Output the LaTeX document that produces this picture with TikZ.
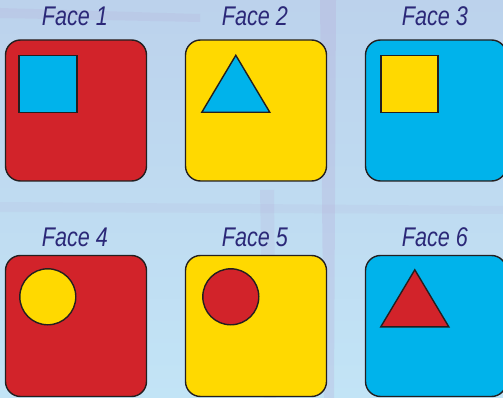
\documentclass[tikz,border=0pt]{standalone}
\usepackage{fontspec}
\setmainfont{Liberation Sans}
\definecolor{bgtop}{HTML}{BCD2EC}
\definecolor{bgbot}{HTML}{C2E4F6}
\definecolor{streak}{HTML}{B39CCF}
\definecolor{fred}{HTML}{D2232A}
\definecolor{fyellow}{HTML}{FFD900}
\definecolor{fcyan}{HTML}{00B3EB}
\definecolor{ftext}{HTML}{2B2878}
\definecolor{fline}{HTML}{231F20}
\tikzset{
  face/.style={draw=fline, line width=1.4pt, rounded corners=15pt, minimum width=141pt, minimum height=141pt, inner sep=0pt},
  shapeline/.style={draw=fline, line width=1.4pt},
  facelabel/.style={text=ftext, font=\fontsize{27}{27}\selectfont\itshape, xscale=0.8, inner sep=0pt, anchor=base}
}
\begin{document}
\begin{tikzpicture}[x=1pt,y=-1pt]
\useasboundingbox (0,0) rectangle (503,398);
\begin{scope}
\clip (0,0) rectangle (503,398);
\shade[top color=bgtop, bottom color=bgbot] (0,0) rectangle (503,398);
% faint streaks
\fill[streak, opacity=0.22] (320,0) -- (336,0) -- (334,398) -- (324,398) -- cycle;
\fill[streak, opacity=0.15] (260,190) -- (274,190) -- (276,398) -- (264,398) -- cycle;
\fill[streak, opacity=0.15] (0,8) -- (200,14) -- (200,22) -- (0,18) -- cycle;
\fill[streak, opacity=0.10] (0,202) -- (503,206) -- (503,214) -- (0,212) -- cycle;

% boxes
\node[face, fill=fred]    (f1) at (76,110.5) {};
\node[face, fill=fyellow] (f2) at (256,110.5) {};
\node[face, fill=fcyan]   (f3) at (436,110.5) {};
\node[face, fill=fred]    (f4) at (76,326) {};
\node[face, fill=fyellow] (f5) at (256,326) {};
\node[face, fill=fcyan]   (f6) at (436,326) {};
\end{scope}

% labels
\node[facelabel] (l1) at (75,26) {Face 1};
\node[facelabel] (l2) at (255,26) {Face 2};
\node[facelabel] (l3) at (435,26) {Face 3};
\node[facelabel] (l4) at (75,246) {Face 4};
\node[facelabel] (l5) at (255,246) {Face 5};
\node[facelabel] (l6) at (435,246) {Face 6};

% inner shapes
\draw[shapeline, fill=fcyan] ([shift={(14,16)}]f1.north west) rectangle ([shift={(72,73)}]f1.north west);
\draw[shapeline, fill=fcyan] ([shift={(51,16)}]f2.north west) -- ([shift={(85,73)}]f2.north west) -- ([shift={(17,73)}]f2.north west) -- cycle;
\draw[shapeline, fill=fyellow] ([shift={(16,16)}]f3.north west) rectangle ([shift={(73,73)}]f3.north west);
\draw[shapeline, fill=fyellow] ([shift={(43,42)}]f4.north west) circle (28);
\draw[shapeline, fill=fred] ([shift={(46,42)}]f5.north west) circle (28);
\draw[shapeline, fill=fred] ([shift={(50,15)}]f6.north west) -- ([shift={(84,72)}]f6.north west) -- ([shift={(16,72)}]f6.north west) -- cycle;
\end{tikzpicture}
\end{document}
